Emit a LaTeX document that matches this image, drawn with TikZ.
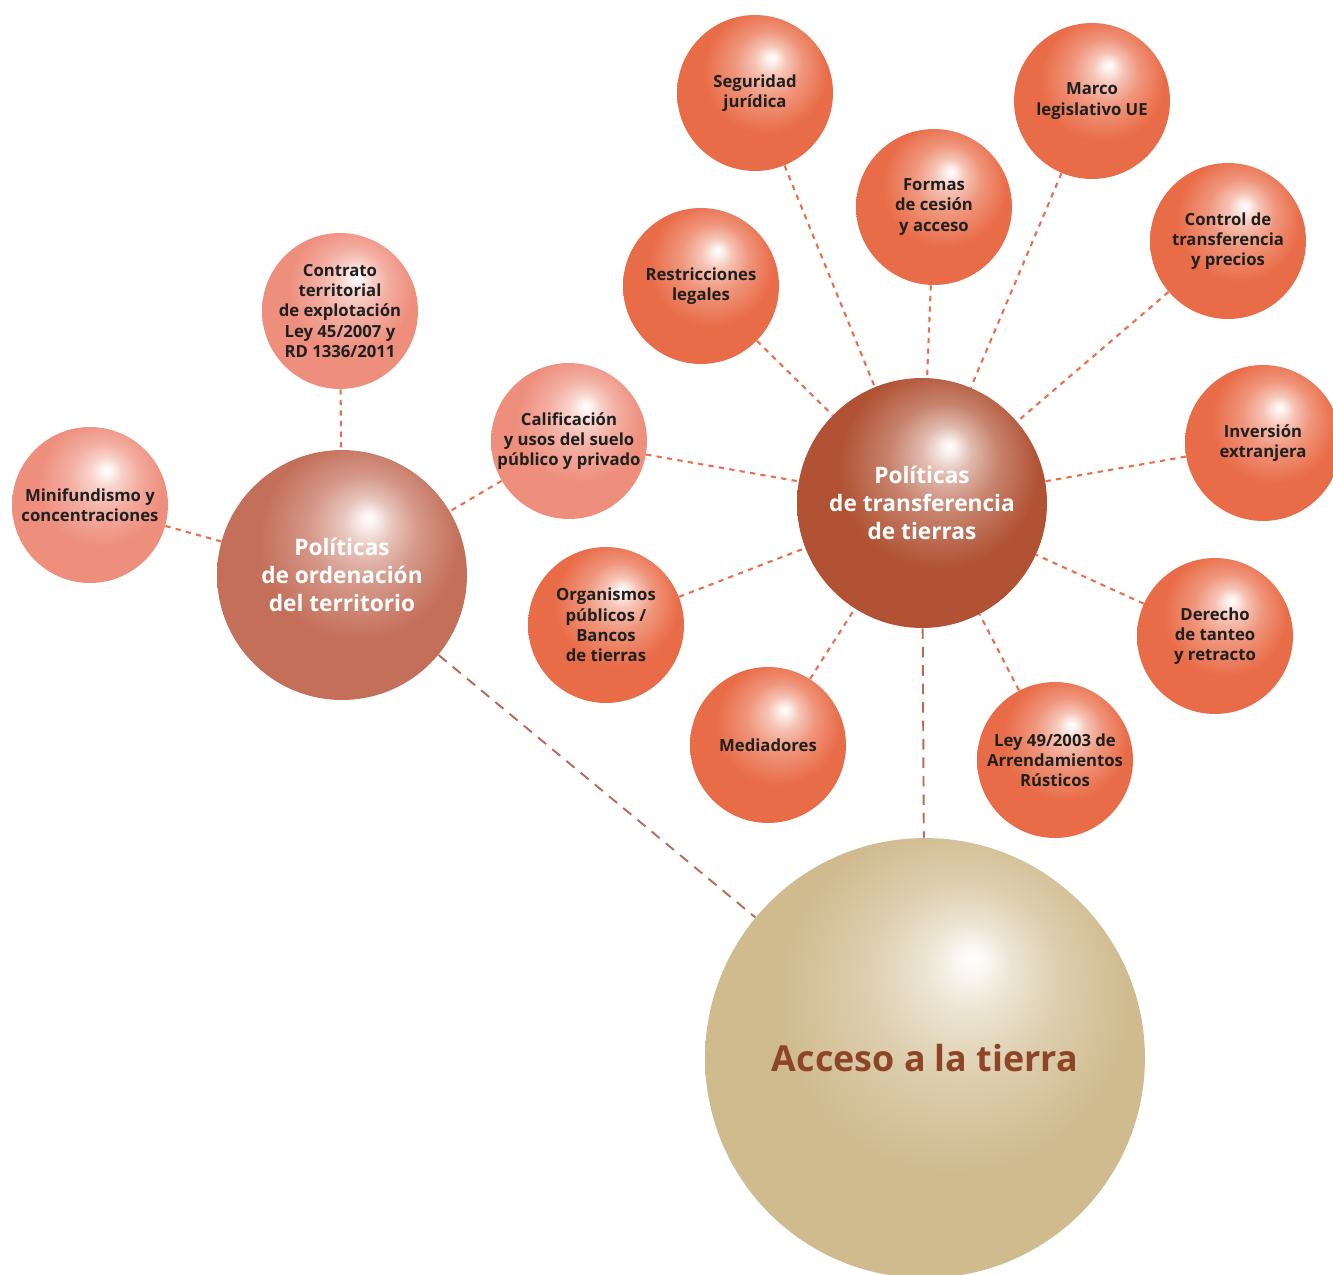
\documentclass[tikz,border=0pt]{standalone}
\usepackage{fontspec}
\setmainfont{Open Sans}
\usepackage{tikz}
\usetikzlibrary{shapes.geometric}

\definecolor{naranja}{HTML}{E96C48}
\definecolor{rosa}{HTML}{EE8F7E}
\definecolor{ordena}{HTML}{C46F5A}
\definecolor{transf}{HTML}{B15234}
\definecolor{arena}{HTML}{D0BB8F}
\definecolor{marron}{HTML}{8D4526}
\definecolor{punteo}{HTML}{E8704E}
\definecolor{raya}{HTML}{BA6A55}

% radial shadings with the highlight up and to the right
\newcommand{\hazesfera}[2]{%
  \pgfdeclareradialshading{#1}{\pgfpoint{5.5bp}{11.5bp}}{%
    color(0bp)=(white); color(1.5bp)=(white!90!#2); color(5bp)=(white!60!#2);
    color(11bp)=(white!28!#2); color(20bp)=(#2); color(50bp)=(#2)}}
\hazesfera{esfnaranja}{naranja}
\hazesfera{esfrosa}{rosa}
\hazesfera{esfordena}{ordena}
\hazesfera{esftransf}{transf}
\hazesfera{esfarena}{arena}

\begin{document}
\begin{tikzpicture}[x=0.02cm, y=-0.02cm,
  bola/.style={circle, inner sep=-6pt, align=center, minimum size=3.12cm,
    text=black!88, font=\bfseries\fontsize{9.5}{11.5}\selectfont},
  bolanar/.style={bola, shading=esfnaranja},
  bolarosa/.style={bola, shading=esfrosa},
  eje/.style={circle, inner sep=0pt, align=center, minimum size=5cm,
    text=white, font=\bfseries\fontsize{12.9}{15.7}\selectfont},
  punteada/.style={punteo, line width=1.2pt, dash pattern=on 3pt off 3pt},
  rayada/.style={raya, line width=1.1pt, dash pattern=on 6pt off 4.5pt}]

\useasboundingbox (0,0) rectangle (1333,1275);

% hubs
\node[circle, minimum size=8.8cm, inner sep=0pt, shading=esfarena, text=marron,
  font=\bfseries\fontsize{20.4}{25}\selectfont] (acceso) at (925,1058) {Acceso a la tierra};
\node[eje, shading=esftransf] (transf) at (922,503) {Políticas\\de transferencia\\de tierras};
\node[eje, shading=esfordena] (ordena) at (342,575) {Políticas\\de ordenación\\del territorio};

% territory
\node[bolarosa] (minif) at (90,505) {Minifundismo y\\concentraciones};
\node[bolarosa] (contrato) at (340,311) {Contrato\\territorial\\de explotación\\Ley 45/2007 y\\RD 1336/2011};
\node[bolarosa] (calif) at (569,441) {Calificación\\y usos del suelo\\público y privado};

% transfer
\node[bolanar] (restr) at (701,286) {Restricciones\\legales};
\node[bolanar] (segur) at (755,93) {Seguridad\\jurídica};
\node[bolanar] (formas) at (934,207) {Formas\\de cesión\\y acceso};
\node[bolanar] (marco) at (1092,101) {Marco\\legislativo UE};
\node[bolanar] (control) at (1228,241) {Control de\\transferencia\\y precios};
\node[bolanar] (invers) at (1263,443) {Inversión\\extranjera};
\node[bolanar] (derecho) at (1215,636) {Derecho\\de tanteo\\y retracto};
\node[bolanar] (ley) at (1055,760) {Ley 49/2003 de\\Arrendamientos\\Rústicos};
\node[bolanar] (mediad) at (768,745) {Mediadores};
\node[bolanar] (organ) at (606,625) {Organismos\\públicos /\\Bancos\\de tierras};

\draw[rayada] (ordena) -- (acceso);
\draw[rayada] (transf) -- (acceso);

\foreach \s in {minif, contrato, calif}
  \draw[punteada] (\s) -- (ordena);
\foreach \s in {calif, restr, segur, formas, marco, control, invers, derecho, ley, mediad, organ}
  \draw[punteada] (\s) -- (transf);

\end{tikzpicture}
\end{document}
